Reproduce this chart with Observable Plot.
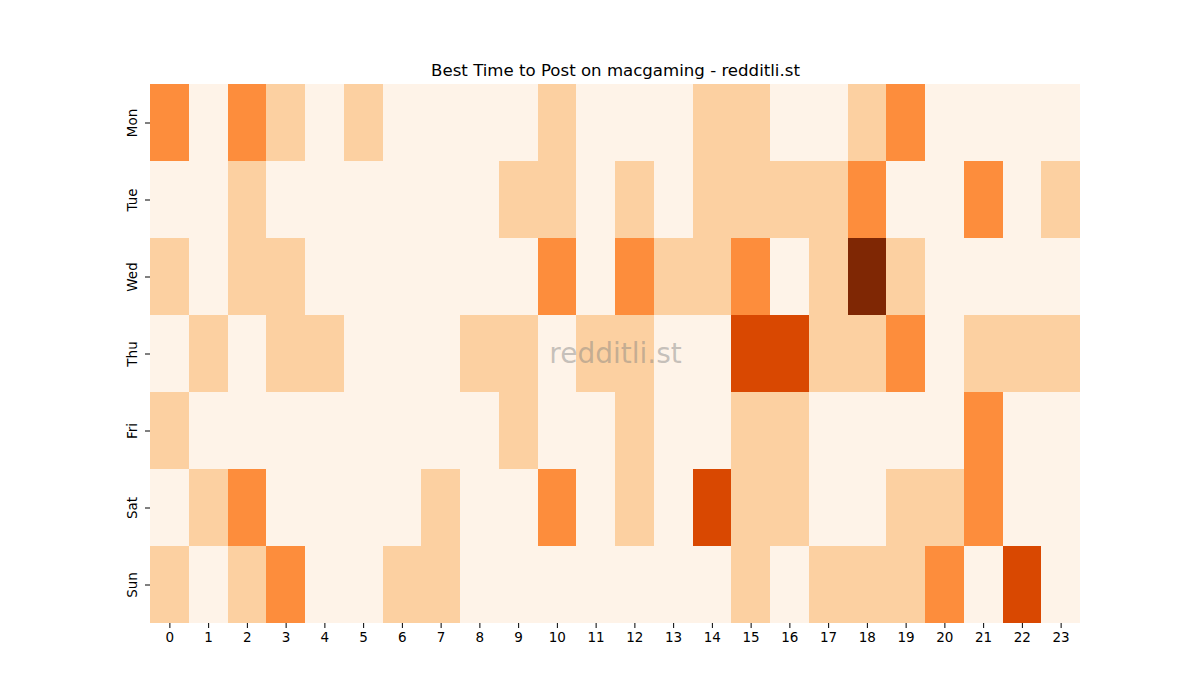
<!DOCTYPE html>
<html><head><meta charset="utf-8">
<script src="https://cdn.jsdelivr.net/npm/d3@7"></script>
<script src="https://cdn.jsdelivr.net/npm/@observablehq/plot@0.6"></script>
<style>body{margin:0;background:#fff;} #chart svg{display:block;}</style>
</head><body><div id="chart"></div>
<script>
const days = ["Mon","Tue","Wed","Thu","Fri","Sat","Sun"];
const hours = [0,1,2,3,4,5,6,7,8,9,10,11,12,13,14,15,16,17,18,19,20,21,22,23];
const mon = [2,0,2,1,0,1,0,0,0,0,1,0,0,0,1,1,0,0,1,2,0,0,0,0];
const tue = [0,0,1,0,0,0,0,0,0,1,1,0,1,0,1,1,1,1,2,0,0,2,0,1];
const wed = [1,0,1,1,0,0,0,0,0,0,2,0,2,1,1,2,0,1,4,1,0,0,0,0];
const thu = [0,1,0,1,1,0,0,0,1,1,0,1,1,0,0,3,3,1,1,2,0,1,1,1];
const fri = [1,0,0,0,0,0,0,0,0,1,0,0,1,0,0,1,1,0,0,0,0,2,0,0];
const sat = [0,1,2,0,0,0,0,1,0,0,2,0,1,0,3,1,1,0,0,1,1,2,0,0];
const sun = [1,0,1,2,0,0,1,1,0,0,0,0,0,0,0,1,0,1,1,1,2,0,3,0];
const rows = [mon,tue,wed,thu,fri,sat,sun];
const levels = [0,1,2,3,4];
const palette = ["#fef3e8","#fcd0a1","#fd8d3c","#d94801","#7f2704"];
const title = "Best Time to Post on macgaming - redditli.st";
const watermark = "redditli.st";

const data = [];
rows.forEach((r,i)=>r.forEach((v,j)=>data.push({day:days[i],hour:hours[j],value:v})));

const chart = Plot.plot({
  width:1200, height:700,
  marginLeft:150, marginRight:120, marginTop:84, marginBottom:77,
  style:{fontFamily:"DejaVu Sans", fontSize:"13.5px", color:"#000", background:"#fff"},
  x:{type:"band", domain:hours, padding:0, round:false, label:null, tickSize:5, tickPadding:4},
  y:{type:"band", domain:days, padding:0, round:false, label:null, tickSize:5, tickPadding:9, tickRotate:-90},
  color:{type:"ordinal", domain:levels, range:palette},
  marks:[
    Plot.cell(data,{x:"hour",y:"day",fill:"value",inset:0,shapeRendering:"crispEdges"}),
    Plot.text([watermark],{frameAnchor:"middle",text:d=>d,fontSize:28,fill:"#808080",fillOpacity:0.45}),
    Plot.text([title],{frameAnchor:"top",text:d=>d,dy:-20,fontSize:16.6,fill:"#000"})
  ]
});
document.getElementById("chart").appendChild(chart);
</script></body></html>
